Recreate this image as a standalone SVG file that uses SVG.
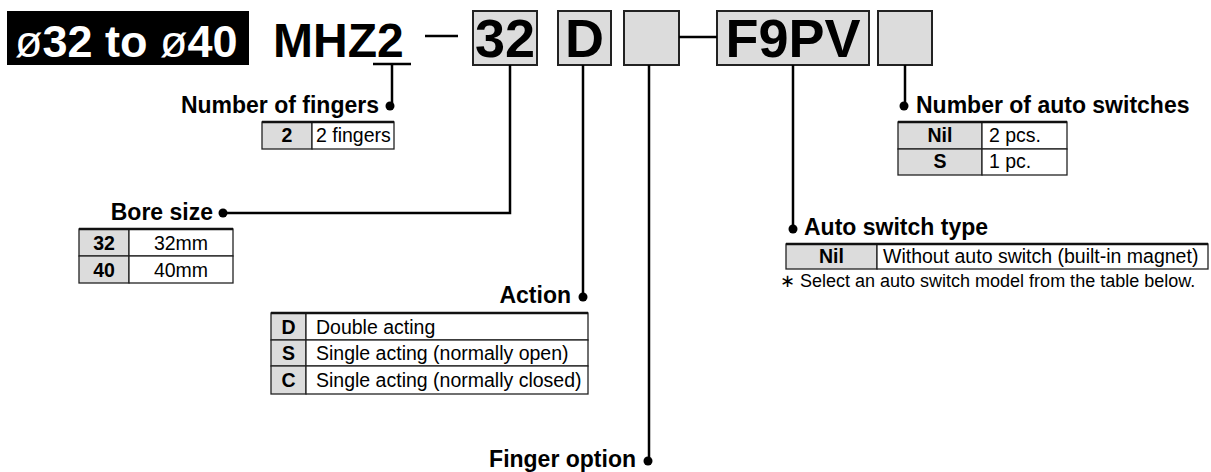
<svg xmlns="http://www.w3.org/2000/svg" width="1211" height="472" viewBox="0 0 1211 472">
<style>
text{font-family:"Liberation Sans",Arial,sans-serif;fill:#000}
.hdr{font-size:45px;font-weight:bold;fill:#fff}
.big{font-size:48px;font-weight:bold}
.box{fill:#dcdcdc;stroke:#222;stroke-width:2}
.boxt{font-size:54px;font-weight:bold;text-anchor:middle}
.lbl{font-size:23px;font-weight:bold}
.tb{fill:#fff;stroke:#222;stroke-width:1.3}
.key{fill:#dcdcdc;stroke:#222;stroke-width:1.3}
.top{stroke:#111;stroke-width:2.6}
.k{font-size:19.5px;font-weight:bold;text-anchor:middle}
.v{font-size:19.5px}
.note{font-size:18px}
.ln{stroke:#000;stroke-width:2.5;fill:none}
.dot{fill:#000}
</style>
<g id="header">
<rect x="7" y="11" width="242" height="54" fill="#000"/>
<text class="hdr" x="15" y="57"><tspan font-weight="normal">ø</tspan>32 to <tspan font-weight="normal">ø</tspan>40</text>
<text class="big" x="273" y="57">MHZ2</text>
<line class="ln" x1="425" y1="36" x2="458" y2="36"/>
</g>
<g id="box-bore">
<rect class="box" x="473" y="11" width="64" height="54"/>
<text class="boxt" x="505" y="57">32</text>
</g>
<g id="box-action">
<rect class="box" x="558" y="11" width="53" height="54"/>
<text class="boxt" x="584.5" y="57">D</text>
</g>
<g id="box-finger-option">
<rect class="box" x="624" y="11" width="55" height="54"/>
</g>
<g id="box-switch-type">
<rect class="box" x="717" y="11" width="152" height="54"/>
<text class="boxt" x="793" y="57">F9PV</text>
</g>
<g id="box-switch-number">
<rect class="box" x="878" y="11" width="54" height="54"/>
</g>
<g id="connectors">
<line class="ln" x1="679" y1="37" x2="717" y2="37" stroke-width="3"/>
<line class="ln" x1="373" y1="64" x2="411" y2="64" stroke-width="2"/>
<line class="ln" x1="392" y1="64" x2="392" y2="106"/>
<circle class="dot" cx="390" cy="106" r="4.5"/>
<polyline class="ln" points="510,65 510,213 223,213"/>
<circle class="dot" cx="223" cy="213" r="4.5"/>
<line class="ln" x1="583" y1="65" x2="583" y2="297"/>
<circle class="dot" cx="583" cy="297" r="4.5"/>
<line class="ln" x1="649" y1="65" x2="649" y2="461"/>
<circle class="dot" cx="648" cy="461" r="4.5"/>
<line class="ln" x1="793" y1="65" x2="793" y2="229"/>
<circle class="dot" cx="793" cy="229" r="4.5"/>
<line class="ln" x1="905" y1="65" x2="905" y2="106"/>
<circle class="dot" cx="904" cy="106" r="4.5"/>
</g>
<g id="fingers">
<text class="lbl" x="379" y="113" text-anchor="end">Number of fingers</text>
<rect class="key" x="262" y="122" width="50" height="27"/>
<rect class="tb" x="312" y="122" width="82" height="27"/>
<line class="top" x1="262" y1="122" x2="394" y2="122"/>
<text class="k" x="287" y="142">2</text>
<text class="v" x="316" y="142">2 fingers</text>
</g>
<g id="bore">
<text class="lbl" x="213" y="220" text-anchor="end">Bore size</text>
<rect class="key" x="79" y="229" width="50" height="27"/>
<rect class="tb" x="129" y="229" width="104" height="27"/>
<rect class="key" x="79" y="256" width="50" height="27"/>
<rect class="tb" x="129" y="256" width="104" height="27"/>
<line class="top" x1="79" y1="229" x2="233" y2="229"/>
<text class="k" x="104" y="250">32</text>
<text class="v" x="181" y="250" text-anchor="middle">32mm</text>
<text class="k" x="104" y="277">40</text>
<text class="v" x="181" y="277" text-anchor="middle">40mm</text>
</g>
<g id="action">
<text class="lbl" x="571" y="303" text-anchor="end">Action</text>
<rect class="key" x="271" y="313" width="35" height="27"/>
<rect class="tb" x="306" y="313" width="282" height="27"/>
<rect class="key" x="271" y="340" width="35" height="26"/>
<rect class="tb" x="306" y="340" width="282" height="26"/>
<rect class="key" x="271" y="366" width="35" height="28"/>
<rect class="tb" x="306" y="366" width="282" height="28"/>
<line class="top" x1="271" y1="313" x2="588" y2="313"/>
<text class="k" x="288.5" y="334">D</text>
<text class="v" x="316" y="334">Double acting</text>
<text class="k" x="288.5" y="360">S</text>
<text class="v" x="316" y="360">Single acting (normally open)</text>
<text class="k" x="288.5" y="387">C</text>
<text class="v" x="316" y="387">Single acting (normally closed)</text>
</g>
<g id="finger-option">
<text class="lbl" x="636" y="467" text-anchor="end">Finger option</text>
</g>
<g id="switch-number">
<text class="lbl" x="916" y="113">Number of auto switches</text>
<rect class="key" x="898" y="122" width="84" height="27"/>
<rect class="tb" x="982" y="122" width="85" height="27"/>
<rect class="key" x="898" y="149" width="84" height="26"/>
<rect class="tb" x="982" y="149" width="85" height="26"/>
<line class="top" x1="898" y1="122" x2="1067" y2="122"/>
<text class="k" x="940" y="142">Nil</text>
<text class="v" x="989" y="142">2 pcs.</text>
<text class="k" x="940" y="168">S</text>
<text class="v" x="989" y="168">1 pc.</text>
</g>
<g id="switch-type">
<text class="lbl" x="804" y="235">Auto switch type</text>
<rect class="key" x="786" y="244" width="91" height="25"/>
<rect class="tb" x="877" y="244" width="331" height="25"/>
<line class="top" x1="786" y1="244" x2="1208" y2="244"/>
<text class="k" x="831.5" y="263">Nil</text>
<text class="v" x="883" y="263">Without auto switch (built-in magnet)</text>
<text class="note" x="780" y="287">∗ Select an auto switch model from the table below.</text>
</g>
</svg>
